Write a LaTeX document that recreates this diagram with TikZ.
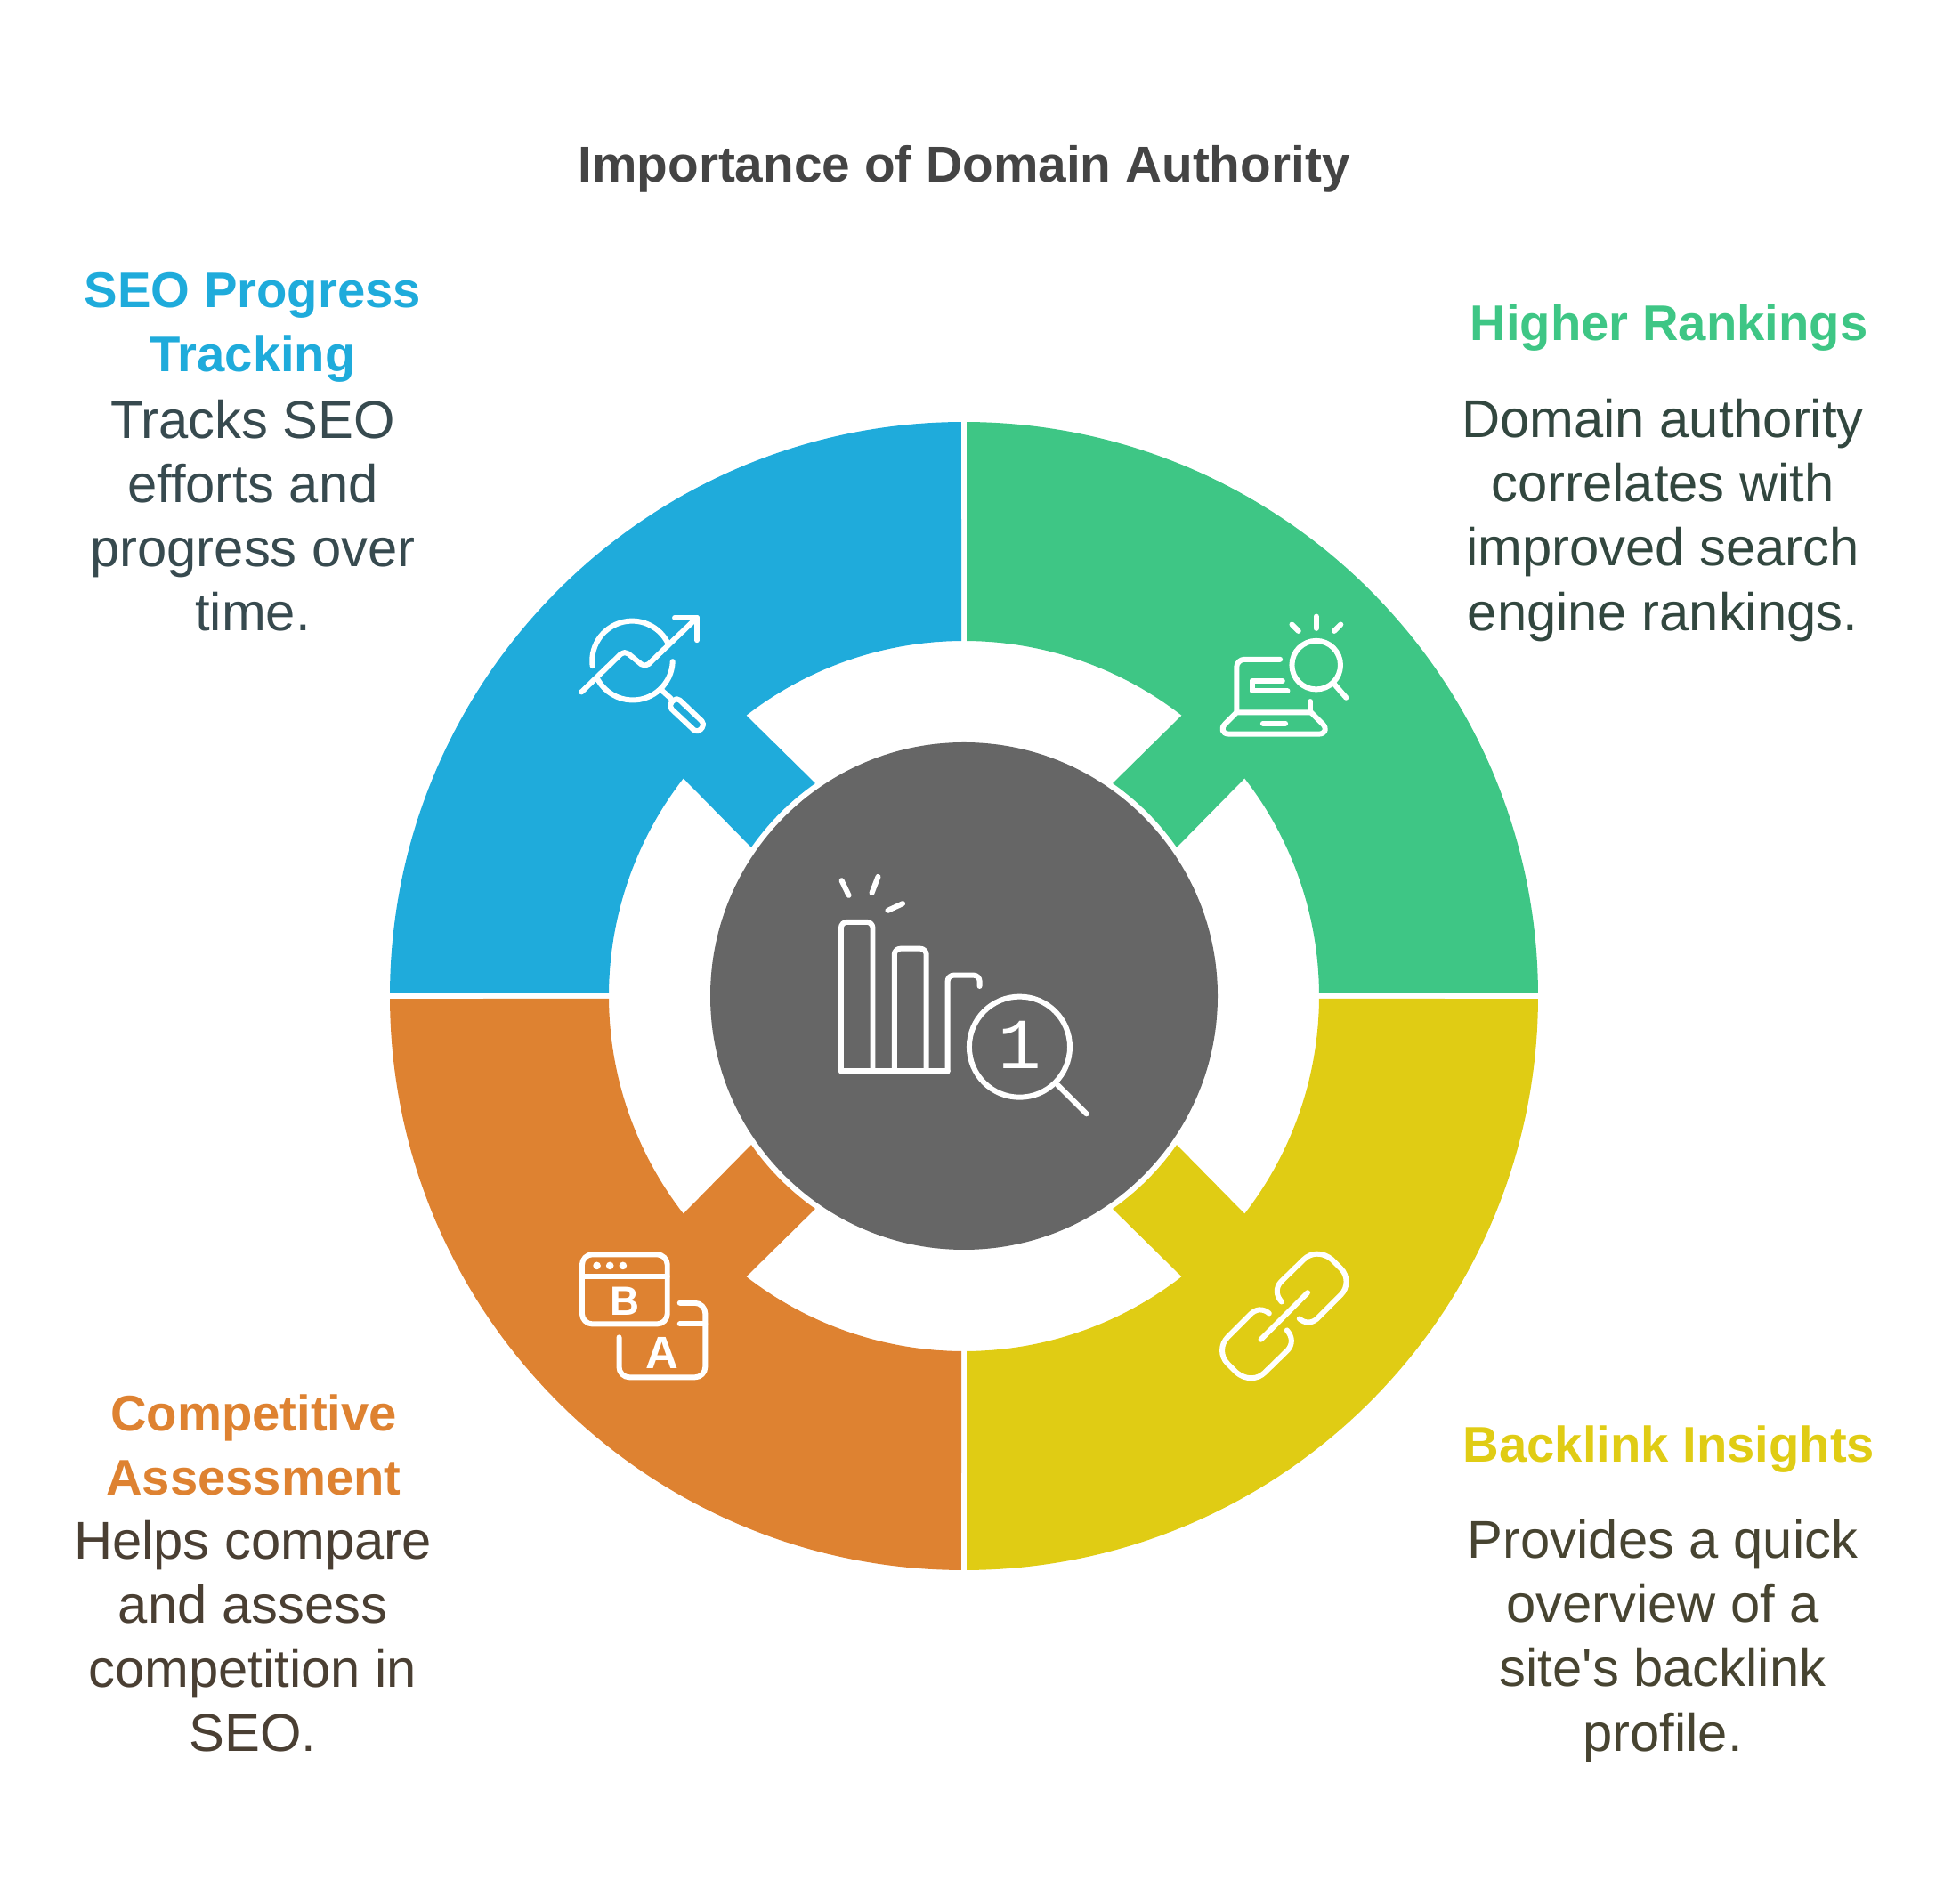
\documentclass[tikz,border=0pt]{standalone}
\usepackage{fontspec}
\newfontfamily\diagramfont{Liberation Sans}
\newfontfamily\iconfont{Liberation Mono}
\definecolor{seoblue}{HTML}{1FABDB}
\definecolor{rankgreen}{HTML}{3EC685}
\definecolor{compgold}{HTML}{DE8231}
\definecolor{linkyellow}{HTML}{E0CC14}
\definecolor{hubgray}{HTML}{666666}
\definecolor{titlegray}{HTML}{444444}
\definecolor{seotext}{HTML}{374A4F}
\definecolor{ranktext}{HTML}{32473F}
\definecolor{comptext}{HTML}{4A3F33}
\definecolor{linktext}{HTML}{474431}
% one quarter of the ring, top right, drawn about the origin
\newcommand{\quarterpath}{(89.73:6.45) arc[start angle=89.73,end angle=0.27,radius=6.45] -- (0.43:3.99) arc[start angle=0.43,end angle=37.8,radius=3.99] -- (34.95:2.916) arc[start angle=34.95,end angle=55.05,radius=2.916] -- (52.2:3.99) arc[start angle=52.2,end angle=89.57,radius=3.99] -- cycle}
\begin{document}
\begin{tikzpicture}[
  heading/.style={font=\diagramfont\fontsize{16}{20.5}\selectfont\bfseries,align=center},
  bodytext/.style={font=\diagramfont\fontsize{17}{20.5}\selectfont,align=center},
  iconline/.style={draw=white,line width=1.7pt,line cap=round,line join=round,fill=none},
  iconframe/.style={x=0.003333cm,y=-0.003333cm}]
\useasboundingbox (0,0) rectangle (22.02,21.30);
\fill[rankgreen,shift={(10.83,10.11)}] \quarterpath;
\fill[seoblue,shift={(10.83,10.11)},xscale=-1] \quarterpath;
\fill[linkyellow,shift={(10.83,10.11)},yscale=-1] \quarterpath;
\fill[compgold,shift={(10.83,10.11)},xscale=-1,yscale=-1] \quarterpath;
\fill[hubgray] (10.83,10.11) circle (2.85);
\node[heading,titlegray,font=\diagramfont\fontsize{16.15}{20.5}\selectfont\bfseries] (title) at (10.83,19.40) {Importance of Domain Authority};
\node[heading,seoblue] (seohead) at (2.84,17.62) {SEO Progress\\Tracking};
\node[bodytext,seotext] (seobody) at (2.84,15.51) {Tracks SEO\\efforts and\\progress over\\time.};
\node[heading,rankgreen] (rankhead) at (18.75,17.62) {Higher Rankings};
\node[bodytext,ranktext] (rankbody) at (18.68,15.455) {Domain authority\\correlates with\\improved search\\engine rankings.};
\node[heading,compgold] (comphead) at (2.85,5.065) {Competitive\\Assessment};
\node[bodytext,comptext] (compbody) at (2.84,2.92) {Helps compare\\and assess\\competition in\\SEO.};
\node[heading,linkyellow] (linkhead) at (18.75,5.015) {Backlink Insights};
\node[bodytext,linktext] (linkbody) at (18.68,2.865) {Provides a quick\\overview of a\\site's backlink\\profile.};
% hub icon
\begin{scope}[shift={(9cm,11.8cm)},iconframe]
\draw[iconline,rounded corners=1.9pt] (135,762) -- (135,258) -- (242,258) -- (242,762);
\draw[iconline,rounded corners=1.9pt] (315,762) -- (315,348) -- (423,348) -- (423,762);
\draw[iconline,rounded corners=1.9pt] (495,762) -- (495,438) -- (603,438) -- (603,475);
\draw[iconline] (135,762) -- (495,762);
\draw[iconline] (137,118) -- (161,168);
\draw[iconline] (260,105) -- (239,160);
\draw[iconline] (293,219) -- (343,196);
\draw[iconline] (738,680) circle (170);
\draw[iconline] (866,808) -- (964,906);
\node[white,font=\iconfont\fontsize{23}{23}\selectfont] (hubdigit) at (738,672) {1};
\end{scope}
% seo icon
\begin{scope}[shift={(6.3cm,14.6cm)},iconframe]
\draw[iconline] (107,235) arc[start angle=172.8,end angle=332.3,radius=135];
\draw[iconline] (378,220) arc[start angle=2,end angle=150,radius=135];
\draw[iconline,rounded corners=1.6pt] (70,323) -- (215,183) -- (285,240) -- (460,72);
\draw[iconline] (385,72) -- (460,72) -- (460,148);
\draw[iconline] (342,318) -- (372,345);
\draw[iconline,rounded corners=1.5pt] (391,340) -- (488,432) -- (461,462) -- (363,370) -- cycle;
\end{scope}
% rank icon
\begin{scope}[shift={(13.5cm,14.6cm)},iconframe]
\draw[iconline] (387,232) circle (82);
\draw[iconline] (447,295) -- (488,342);
\draw[iconline] (305,95) -- (327,117);
\draw[iconline] (387,68) -- (387,108);
\draw[iconline] (470,95) -- (448,117);
\draw[iconline,rounded corners=2.5pt] (265,213) -- (118,213) -- (118,392);
\draw[iconline] (368,355) -- (368,392);
\draw[iconline] (118,392) -- (370,392) -- (408,430) .. controls (425,447) and (418,465) .. (395,465) -- (93,465) .. controls (70,465) and (63,447) .. (80,430) -- cycle;
\draw[iconline] (207,429) -- (283,429);
\draw[iconline] (273,285) -- (170,285) -- (170,320) -- (290,320);
\end{scope}
% comp icon
\begin{scope}[shift={(6.3cm,7.4cm)},iconframe]
\draw[iconline,rounded corners=3.3pt] (72,58) rectangle (360,293);
\draw[iconline] (72,132) -- (360,132);
\fill[white] (122,96) circle (13) (166,96) circle (13) (210,96) circle (13);
\node[white,font=\diagramfont\fontsize{13}{13}\selectfont\bfseries] (compb) at (215,215) {B};
\draw[iconline,rounded corners=3.3pt] (402,222) -- (488,222) -- (488,473) -- (197,473) -- (197,338);
\draw[iconline] (402,293) -- (488,293);
\node[white,font=\diagramfont\fontsize{14.5}{14.5}\selectfont\bfseries] (compa) at (342,390) {A};
\end{scope}
% link icon
\begin{scope}[shift={(13.5cm,7.4cm)},iconframe]
\draw[iconline] (200,345) -- (358,187);
\draw[iconline] (270,218) .. controls (250,195) and (250,170) .. (268,150) -- (345,75) .. controls (370,50) and (410,50) .. (440,75) -- (470,105) .. controls (495,130) and (495,170) .. (470,195) -- (395,270) .. controls (375,292) and (350,292) .. (330,275);
\draw[iconline] (288,314) .. controls (308,337) and (308,362) .. (290,382) -- (213,457) .. controls (188,482) and (148,482) .. (118,457) -- (88,427) .. controls (63,402) and (63,362) .. (88,337) -- (163,262) .. controls (183,240) and (208,240) .. (228,257);
\end{scope}
\end{tikzpicture}
\end{document}
